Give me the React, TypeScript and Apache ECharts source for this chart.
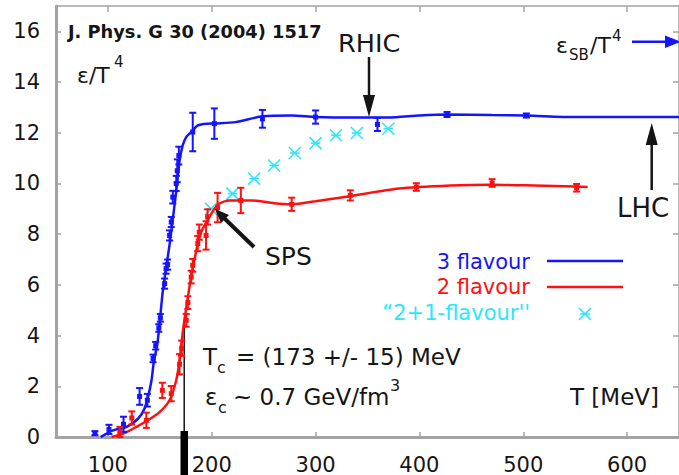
import React, { useEffect, useRef } from "react";
import * as echarts from "echarts";

// ---- data ----
const xTicks = [100, 200, 300, 400, 500, 600];
const yTicks = [0, 2, 4, 6, 8, 10, 12, 14, 16];

// 3 flavour lattice points: T [MeV], eps/T^4, error
const blueT = [87.5, 101, 115, 130.5, 138, 143.5, 146, 149, 150.5, 154.6, 156, 157.5, 159.4, 161, 162.5, 165.8, 166.8, 168.3, 181.7, 202.5, 248.8, 300, 359.6, 426.6, 503];
const blueY = [0.15, 0.3, 0.5, 1.6, 1.45, 3.1, 3.6, 4.3, 4.7, 6.05, 6.64, 6.8, 7.95, 8.48, 9.46, 10.0, 10.5, 11.1, 12.03, 12.36, 12.55, 12.62, 12.33, 12.72, 12.68];
const blueE = [0.08, 0.18, 0.3, 0.33, 0.25, 0.15, 0.15, 0.15, 0.15, 0.2, 0.2, 0.2, 0.2, 0.2, 0.25, 0.3, 0.45, 0.35, 0.76, 0.6, 0.35, 0.26, 0.26, 0.1, 0.08];

// 3 flavour fit curve
const blueFitT = [93, 105, 118, 129, 135, 138.6, 142, 144, 148, 153, 159.4, 165.8, 169, 172, 175.4, 181.7, 186.5, 195, 205, 223, 249, 277, 300, 340, 370, 400, 427, 470, 503, 550, 650];
const blueFitY = [0.0, 0.26, 0.4, 0.72, 1.1, 1.58, 2.24, 2.9, 3.8, 5.8, 7.6, 9.7, 10.9, 11.5, 11.83, 12.09, 12.29, 12.36, 12.37, 12.42, 12.65, 12.68, 12.62, 12.6, 12.6, 12.68, 12.72, 12.7, 12.68, 12.62, 12.62];

// 2 flavour lattice points
const redT = [111.5, 123, 137, 152.4, 161, 169, 171, 175.4, 177, 180.2, 181.7, 186.5, 188, 194.5, 196, 205.6, 228, 277, 333.4, 397, 470, 551.4];
const redY = [0.2, 0.75, 0.66, 1.84, 1.71, 2.87, 3.5, 4.6, 5.3, 6.31, 6.77, 7.63, 8.08, 7.95, 8.68, 9.05, 9.33, 9.18, 9.53, 9.86, 10.02, 9.83];
const redE = [0.2, 0.26, 0.3, 0.3, 0.3, 0.4, 0.3, 0.25, 0.25, 0.25, 0.25, 0.3, 0.3, 0.56, 0.3, 0.58, 0.5, 0.26, 0.2, 0.15, 0.15, 0.15];

// 2 flavour fit curve
const redFitT = [103.5, 114.7, 127.5, 138.6, 150, 159.4, 165.8, 169, 172, 174, 177, 180, 186.5, 190, 194.5, 201, 207, 217, 239, 260, 277, 300, 333, 380, 430, 470, 510, 550, 562];
const redFitY = [0.0, 0.13, 0.4, 0.66, 0.99, 1.45, 2.24, 3.0, 4.1, 4.7, 5.5, 6.3, 7.6, 8.1, 8.45, 8.9, 9.2, 9.33, 9.33, 9.22, 9.18, 9.3, 9.5, 9.8, 9.92, 9.95, 9.92, 9.88, 9.86];

// "2+1-flavour" estimates
const cyanT = [199.3, 220, 240.8, 260, 280, 300, 319.6, 339.7, 370];
const cyanY = [9.0, 9.6, 10.19, 10.71, 11.2, 11.59, 11.9, 11.99, 12.16];

// ---- styles ----
const BLUE = "#1414ff";
const RED = "#ff1010";
const CYAN = "#2ee6f6";
const AXIS = "#a3a3a3";
const INK = "#151515";
const FONT = "DejaVu Sans";

function errRender(color: string) {
  return (params: any, api: any) => {
    const x = api.value(0);
    const y = api.value(1);
    const e = api.value(2);
    const c = api.coord([x, y]);
    const hi = api.coord([x, y + e]);
    const lo = api.coord([x, y - e]);
    const w = 3.5;
    const st = { stroke: color, lineWidth: 2 };
    return {
      type: "group",
      children: [
        { type: "line", shape: { x1: c[0], y1: hi[1], x2: c[0], y2: lo[1] }, style: st },
        { type: "line", shape: { x1: c[0] - w, y1: hi[1], x2: c[0] + w, y2: hi[1] }, style: st },
        { type: "line", shape: { x1: c[0] - w, y1: lo[1], x2: c[0] + w, y2: lo[1] }, style: st },
        { type: "rect", shape: { x: c[0] - 2.5, y: c[1] - 2.5, width: 5, height: 5 }, style: { fill: color } },
      ],
    };
  };
}

function starShapes(cx: number, cy: number, color: string) {
  const s = 6;
  const st = { stroke: color, lineWidth: 1.6 };
  return [
    { type: "line", shape: { x1: cx - s, y1: cy - s, x2: cx + s, y2: cy + s }, style: st },
    { type: "line", shape: { x1: cx - s, y1: cy + s, x2: cx + s, y2: cy - s }, style: st },
    { type: "line", shape: { x1: cx - s * 0.8, y1: cy, x2: cx + s * 0.8, y2: cy }, style: st },
  ];
}

function txt(text: string, x: number, y: number, size: number, opts: any = {}) {
  return {
    type: "text",
    z: 20,
    style: {
      text,
      x,
      y,
      fill: opts.fill || INK,
      fontSize: size,
      fontFamily: FONT,
      fontWeight: opts.bold ? "bold" : "normal",
      align: opts.align || "left",
      textAlign: opts.align || "left",
      verticalAlign: "middle",
      textVerticalAlign: "middle",
    },
  };
}

function arrowV(x: number, yFrom: number, yTip: number, color: string) {
  const dir = yTip > yFrom ? 1 : -1;
  const headLen = 22;
  const baseY = yTip - dir * headLen;
  return [
    { type: "line", z: 20, shape: { x1: x, y1: yFrom, x2: x, y2: baseY }, style: { stroke: color, lineWidth: 2.5 } },
    { type: "polygon", z: 20, shape: { points: [[x - 6, baseY], [x + 6, baseY], [x, yTip]] }, style: { fill: color } },
  ];
}

export default function App() {
  const ref = useRef<HTMLDivElement>(null);
  useEffect(() => {
    if (!ref.current) return;
    const chart = echarts.init(ref.current, undefined, { renderer: "svg" });

    const blueFit = blueFitT.map((t, i) => [t, blueFitY[i]]);
    const redFit = redFitT.map((t, i) => [t, redFitY[i]]);
    const bluePts = blueT.map((t, i) => [t, blueY[i], blueE[i]]);
    const redPts = redT.map((t, i) => [t, redY[i], redE[i]]);
    const cyanPts = cyanT.map((t, i) => [t, cyanY[i]]);

    const graphics: any[] = [
      txt("J. Phys. G 30 (2004) 1517", 68, 31, 17.8, { bold: true }),
      txt("ε/T", 77, 75, 22),
      txt("4", 114, 62, 15),
      txt("RHIC", 338, 43, 25.5),
      ...arrowV(369, 57, 117, INK),
      txt("ε", 556, 45.5, 22),
      txt("SB", 569, 55, 15),
      txt("/T", 590, 45.5, 22),
      txt("4", 612, 36, 15),
      { type: "line", z: 20, shape: { x1: 632, y1: 41.7, x2: 668, y2: 41.7 }, style: { stroke: BLUE, lineWidth: 2.5 } },
      { type: "polygon", z: 20, shape: { points: [[665, 35.5], [665, 48], [681, 41.7]] }, style: { fill: BLUE } },
      txt("LHC", 617, 208, 26),
      ...arrowV(651.7, 190, 123, INK),
      txt("SPS", 265, 256, 25),
      { type: "line", z: 20, shape: { x1: 254, y1: 247, x2: 224, y2: 218 }, style: { stroke: INK, lineWidth: 4 } },
      { type: "polygon", z: 20, shape: { points: [[215, 209], [229, 215], [221, 223]] }, style: { fill: INK } },
      txt("3 flavour", 530, 262, 21, { fill: BLUE, align: "right" }),
      { type: "line", z: 20, shape: { x1: 547, y1: 261, x2: 623, y2: 261 }, style: { stroke: BLUE, lineWidth: 2.5 } },
      txt("2 flavour", 530, 287, 21, { fill: RED, align: "right" }),
      { type: "line", z: 20, shape: { x1: 547, y1: 287, x2: 623, y2: 287 }, style: { stroke: RED, lineWidth: 2.5 } },
      txt("\u201C2+1-flavour''", 530, 313, 21, { fill: CYAN, align: "right" }),
      { type: "group", z: 20, children: starShapes(585, 314, CYAN) },
      txt("T", 203, 357, 23),
      txt("c", 217, 367, 16),
      txt("= (173 +/- 15) MeV", 236, 357, 23),
      txt("ε", 205, 397, 23),
      txt("c", 218, 407, 16),
      txt("~ 0.7 GeV/fm", 233, 397, 23),
      txt("3", 390, 385, 16),
      txt("T [MeV]", 570, 397, 23),
      { type: "line", z: 1, shape: { x1: 184.2, y1: 437, x2: 184.2, y2: 322 }, style: { stroke: INK, lineWidth: 1.5 } },
      { type: "rect", z: 30, shape: { x: 180.5, y: 431, width: 7.5, height: 44 }, style: { fill: "#000" } },
    ];

    chart.setOption({
      animation: false,
      backgroundColor: "#fff",
      grid: { left: 56, top: 6, width: 626, height: 431, containLabel: false },
      xAxis: [
        {
          type: "value", min: 50, max: 650, position: "bottom",
          axisLine: { show: true, onZero: false, lineStyle: { color: AXIS, width: 3 } },
          axisTick: { show: true, inside: true, length: 5, customValues: xTicks, lineStyle: { color: AXIS, width: 1.5 } },
          axisLabel: { customValues: xTicks, margin: 17, fontSize: 21, fontFamily: FONT, color: INK },
          splitLine: { show: false },
        },
        {
          type: "value", min: 50, max: 650, position: "top",
          axisLine: { show: true, onZero: false, lineStyle: { color: AXIS, width: 1.5 } },
          axisTick: { show: true, inside: true, length: 6, customValues: xTicks, lineStyle: { color: AXIS, width: 1.5 } },
          axisLabel: { show: false },
          splitLine: { show: false },
        },
      ],
      yAxis: [
        {
          type: "value", min: 0, max: 17, position: "left",
          axisLine: { show: true, onZero: false, lineStyle: { color: AXIS, width: 3 } },
          axisTick: { show: true, inside: true, length: 5, customValues: yTicks, lineStyle: { color: AXIS, width: 1.5 } },
          axisLabel: { customValues: yTicks, margin: 16, fontSize: 21, fontFamily: FONT, color: INK },
          splitLine: { show: false },
        },
        {
          type: "value", min: 0, max: 17, position: "right",
          axisLine: { show: true, onZero: false, lineStyle: { color: AXIS, width: 1.5 } },
          axisTick: { show: true, inside: true, length: 6, customValues: yTicks, lineStyle: { color: AXIS, width: 1.5 } },
          axisLabel: { show: false },
          splitLine: { show: false },
        },
      ],
      graphic: graphics,
      series: [
        {
          name: "2+1-flavour", type: "custom", xAxisIndex: 0, yAxisIndex: 0, z: 3,
          data: cyanPts, encode: { x: 0, y: 1 },
          renderItem: (params: any, api: any) => {
            const c = api.coord([api.value(0), api.value(1)]);
            return { type: "group", children: starShapes(c[0], c[1], CYAN) };
          },
        },
        {
          name: "3 flavour fit", type: "line", xAxisIndex: 0, yAxisIndex: 0, z: 4,
          data: blueFit, smooth: 0.25, showSymbol: false, lineStyle: { color: BLUE, width: 2.5 },
        },
        {
          name: "2 flavour fit", type: "line", xAxisIndex: 0, yAxisIndex: 0, z: 4,
          data: redFit, smooth: 0.25, showSymbol: false, lineStyle: { color: RED, width: 2.5 },
        },
        {
          name: "3 flavour", type: "custom", xAxisIndex: 0, yAxisIndex: 0, z: 5,
          data: bluePts, encode: { x: 0, y: 1 }, renderItem: errRender(BLUE),
        },
        {
          name: "2 flavour", type: "custom", xAxisIndex: 0, yAxisIndex: 0, z: 5,
          data: redPts, encode: { x: 0, y: 1 }, renderItem: errRender(RED),
        },
      ],
    });
    return () => chart.dispose();
  }, []);
  return (
    <div
      ref={ref}
      style={{ position: "fixed", left: 0, top: 0, width: 679, height: 475, background: "#fff" }}
    />
  );
}
